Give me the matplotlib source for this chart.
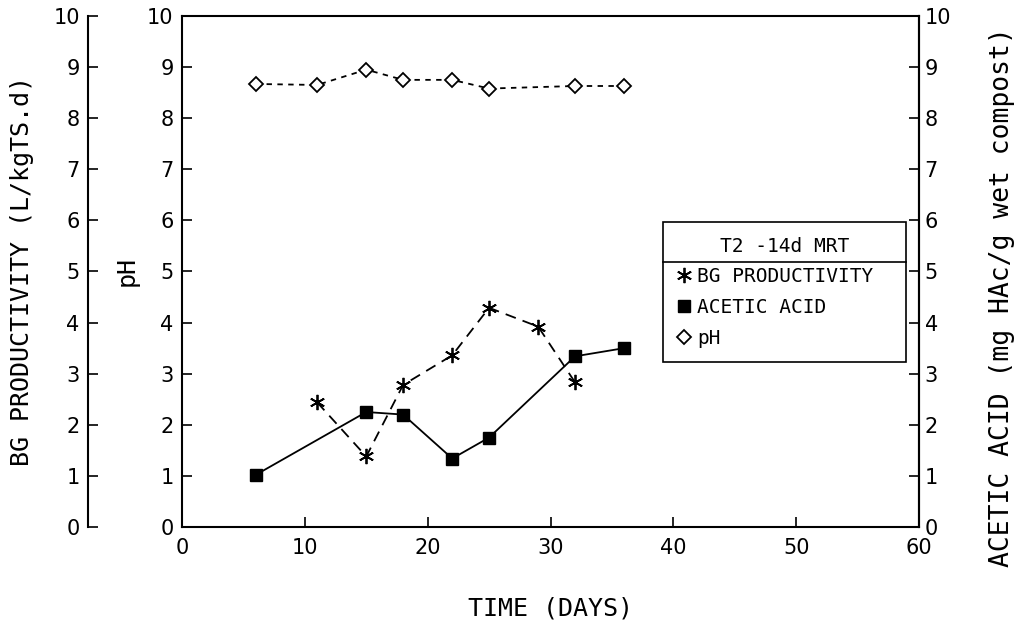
import matplotlib
matplotlib.use('Agg')
import matplotlib.pyplot as plt
from matplotlib.lines import Line2D

# days / values
bg_days = [11, 15, 18, 22, 25, 29, 32]
bg_prod = [2.44, 1.38, 2.78, 3.36, 4.29, 3.92, 2.83]

acid_days = [6, 15, 18, 22, 25, 32, 36]
acetic = [1.02, 2.25, 2.2, 1.34, 1.75, 3.34, 3.5]

ph_days = [6, 11, 15, 18, 22, 25, 32, 36]
ph = [8.67, 8.65, 8.95, 8.75, 8.75, 8.58, 8.63, 8.63]

ticks = list(range(0, 11))
xticks = [0, 10, 20, 30, 40, 50, 60]

plt.rcParams['font.family'] = 'DejaVu Sans'
lab_font = dict(family='DejaVu Sans Mono', fontsize=18)

fig = plt.figure(figsize=(10.26, 6.27), dpi=100)
ax = fig.add_axes([0.1774, 0.1595, 0.7183, 0.815])

ax.plot(bg_days, bg_prod, color='black', lw=1.3, dashes=(6, 4),
        marker=(6, 2, 0), ms=11, mew=1.3, label='BG PRODUCTIVITY')
ax.plot(acid_days, acetic, color='black', lw=1.3, marker='s', ms=9,
        label='ACETIC ACID')
ax.plot(ph_days, ph, color='black', lw=1.3, dashes=(3, 3), marker='D', ms=7,
        mfc='white', mew=1.3, label='pH')

ax.set_xlim(0, 60)
ax.set_ylim(0, 10)
ax.set_xticks(xticks)
ax.set_yticks(ticks)
ax.tick_params(direction='in', length=7, width=1.2, labelsize=15, pad=6)
ax.tick_params(axis='x', pad=8)
for s in ax.spines.values():
    s.set_linewidth(1.5)
ax.set_ylabel('pH', labelpad=6, **lab_font)
ax.set_xlabel('TIME (DAYS)', labelpad=28, **lab_font)

# extra left axis for BG productivity
ax2 = ax.twinx()
ax2.set_ylim(0, 10)
ax2.set_yticks(ticks)
for k in ['top', 'bottom', 'right']:
    ax2.spines[k].set_visible(False)
ax2.spines['left'].set_visible(True)
ax2.spines['left'].set_position(('axes', -0.1275))
ax2.spines['left'].set_linewidth(1.5)
ax2.yaxis.set_ticks_position('left')
ax2.yaxis.set_label_position('left')
ax2.tick_params(direction='in', length=7, width=1.2, labelsize=15, pad=6)
ax2.set_ylabel('BG PRODUCTIVITY (L/kgTS.d)', labelpad=14, **lab_font)

# right axis for acetic acid
ax3 = ax.twinx()
ax3.set_ylim(0, 10)
ax3.set_yticks(ticks)
for k in ['top', 'bottom', 'left']:
    ax3.spines[k].set_visible(False)
ax3.spines['right'].set_linewidth(1.5)
ax3.tick_params(direction='in', length=7, width=1.2, labelsize=15, pad=4)
ax3.set_ylabel('ACETIC ACID (mg HAc/g wet compost)', family='DejaVu Sans Mono',
               fontsize=19)
ax3.yaxis.set_label_coords(1.095, 0.45)

leg = ax.legend(title='T2 -14d MRT', loc='upper left',
                bbox_to_anchor=(0.653, 0.497, 0.33, 0.1), mode='expand',
                fancybox=False, edgecolor='black', framealpha=1,
                prop=dict(family='DejaVu Sans Mono', size=14),
                title_fontproperties=dict(family='DejaVu Sans Mono', size=14),
                handlelength=0.6, handletextpad=0.4,
                borderaxespad=0, borderpad=0.75, labelspacing=0.6)
leg.get_frame().set_linewidth(1.2)
leg.set_zorder(10)
for h in leg.legend_handles:
    h.set_linestyle('none')

# line under the legend title
fig.canvas.draw()
fb = leg.get_frame().get_window_extent()
tb = leg.get_title().get_window_extent()
inv = fig.transFigure.inverted()
ysep = inv.transform((0, tb.y0 - 6))[1]
x0 = inv.transform((fb.x0, 0))[0]
x1 = inv.transform((fb.x1, 0))[0]
fig.add_artist(Line2D([x0, x1], [ysep, ysep], color='black', lw=1.2, zorder=20))

fig.savefig('out.png', dpi=100)
